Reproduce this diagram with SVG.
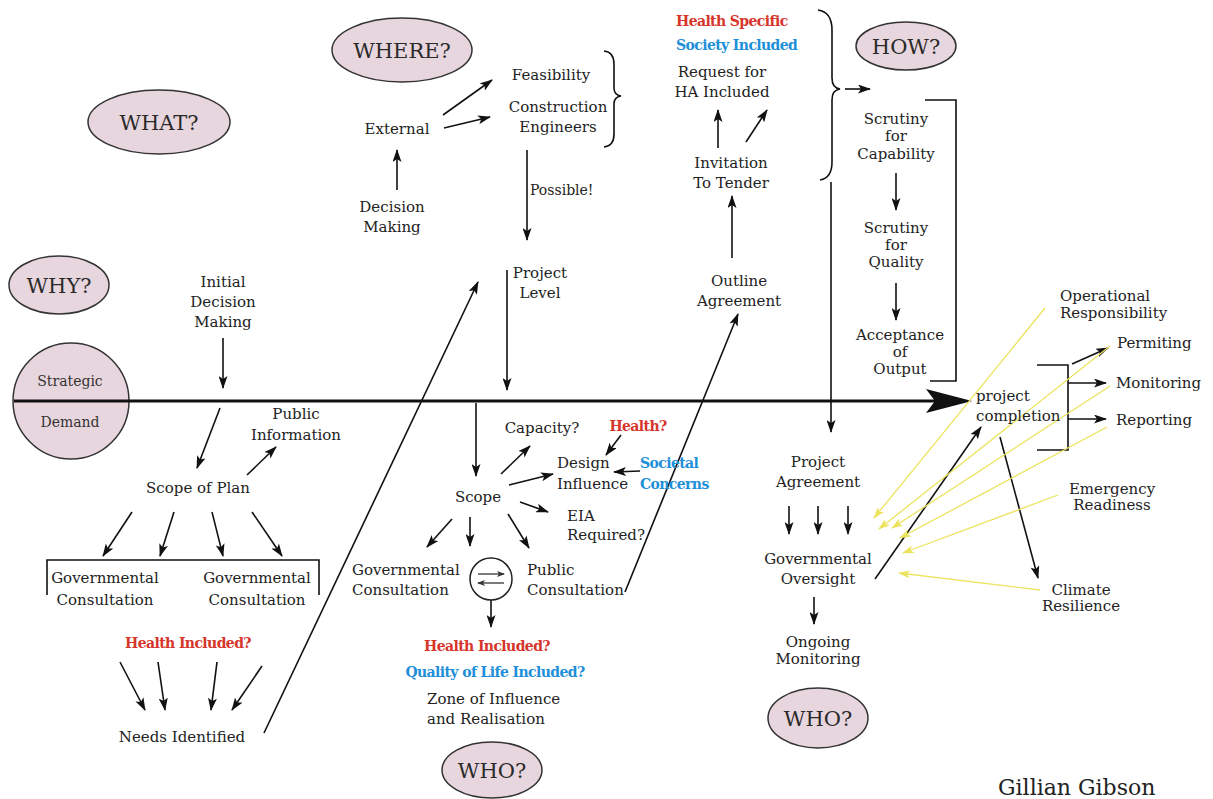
<svg xmlns="http://www.w3.org/2000/svg" width="1213" height="799" viewBox="0 0 1213 799">
<defs>
<style>
text{font-family:"DejaVu Serif","Liberation Serif",serif;font-size:15px;fill:#222}
.c{text-anchor:middle}
.q{font-size:21px;text-anchor:middle;fill:#2a2a2a}
.sd{font-size:14px;text-anchor:middle;fill:#333}
.r{font-weight:bold;fill:#d6352b;font-size:14px;letter-spacing:-0.6px}
.b{font-weight:bold;fill:#1e8fd8;font-size:14px;letter-spacing:-0.6px}
.el{fill:#e8d6de;stroke:#333;stroke-width:1.5}
.ln{fill:none;stroke:#111;stroke-width:1.6}
.ar{fill:none;stroke:#111;stroke-width:1.6;marker-end:url(#ah)}
.ya{fill:none;stroke:#ece35e;stroke-width:1.3;marker-end:url(#ay)}
.sm{fill:none;stroke:#444;stroke-width:1.4;marker-end:url(#as)}
</style>
<marker id="ah" viewBox="0 0 13 9" refX="12" refY="4.5" markerWidth="13" markerHeight="9" markerUnits="userSpaceOnUse" orient="auto"><path d="M0,0 L13,4.5 L0,9 L3,4.5 Z" fill="#111"/></marker>
<marker id="ay" viewBox="0 0 12 8" refX="11" refY="4" markerWidth="12" markerHeight="8" markerUnits="userSpaceOnUse" orient="auto"><path d="M0,0 L12,4 L0,8 L3,4 Z" fill="#ece35e"/></marker>
<marker id="as" viewBox="0 0 8 6" refX="7" refY="3" markerWidth="8" markerHeight="6" markerUnits="userSpaceOnUse" orient="auto"><path d="M0,0 L8,3 L0,6 L2,3 Z" fill="#333"/></marker>
</defs>
<rect width="1213" height="799" fill="#fff"/>

<g id="q-what"><ellipse class="el" cx="159" cy="122" rx="71" ry="32"/><text class="q" x="159" y="130">WHAT?</text></g>
<g id="q-why"><ellipse class="el" cx="59" cy="285" rx="50" ry="29"/><text class="q" x="59" y="293">WHY?</text></g>
<g id="q-where"><ellipse class="el" cx="402" cy="50" rx="70" ry="32"/><text class="q" x="402" y="58">WHERE?</text></g>
<g id="q-how"><ellipse class="el" cx="906" cy="46" rx="50" ry="24"/><text class="q" x="906" y="54">HOW?</text></g>
<g id="q-who1"><ellipse class="el" cx="492" cy="770" rx="50" ry="28"/><text class="q" x="492" y="778">WHO?</text></g>
<g id="q-who2"><ellipse class="el" cx="818" cy="718" rx="50" ry="30"/><text class="q" x="818" y="726">WHO?</text></g>
<g id="strategic-demand"><circle class="el" cx="71" cy="401" r="58"/><text class="sd" x="70" y="386">Strategic</text><text class="sd" x="70" y="427">Demand</text></g>

<g id="connectors">
<path d="M14,401 H935" fill="none" stroke="#111" stroke-width="3"/>
<path d="M926,389 L972,401 L926,413 L935,401 Z" fill="#111"/>
<path class="ar" d="M223,338 V388"/>
<path class="ar" d="M220,408 L197,468"/>
<path class="ar" d="M247,475 L276,447"/>
<path class="ar" d="M132,512 L103,556"/>
<path class="ar" d="M174,512 L160,556"/>
<path class="ar" d="M212,512 L223,556"/>
<path class="ar" d="M252,512 L282,556"/>
<path class="ln" d="M47,595 V560 H319 V595"/>
<path class="ar" d="M120,662 L145,710"/>
<path class="ar" d="M158,662 L165,710"/>
<path class="ar" d="M217,662 L211,710"/>
<path class="ar" d="M262,666 L232,710"/>
<path class="ar" d="M264,733 L478,282"/>
<path class="ar" d="M397,190 V150"/>
<path class="ar" d="M443,115 L492,80"/>
<path class="ar" d="M444,128 L490,117"/>
<path class="ln" d="M604,51 Q614,52 614,64 L614,88 Q614,95 621,96 Q614,97 614,104 L614,134 Q614,146 604,147"/>
<path class="ar" d="M527,150 V240"/>
<path class="ar" d="M507,270 V390"/>
<path class="ar" d="M476,403 V476"/>
<path class="ar" d="M501,474 L530,446"/>
<path class="ar" d="M621,435 L606,455"/>
<path class="ar" d="M509,485 L553,474"/>
<path class="ar" d="M640,471 L614,472"/>
<path class="ar" d="M520,502 L548,512"/>
<path class="ar" d="M452,519 L427,547"/>
<path class="ar" d="M470,517 V546"/>
<path class="ar" d="M508,514 L529,548"/>
<path class="ar" d="M491,600 V627"/>
<path class="ar" d="M625,592 L738,314"/>
<path class="ar" d="M718,148 V110"/>
<path class="ar" d="M746,142 L767,110"/>
<path class="ar" d="M732,258 V196"/>
<path class="ln" d="M818,10 Q832,12 832,30 L832,78 Q832,88 840,89 Q832,90 832,100 L832,162 Q832,178 820,180"/>
<path class="ar" d="M845,89 H870"/>
<path class="ar" d="M831,182 V432"/>
<path class="ar" d="M896,173 V210"/>
<path class="ar" d="M896,283 V320"/>
<path class="ln" d="M925,100 H956 V381 H930"/>
<path class="ar" d="M789,506 V534"/>
<path class="ar" d="M818,506 V534"/>
<path class="ar" d="M848,506 V534"/>
<path class="ar" d="M814,597 V624"/>
<path class="ar" d="M875,579 L981,427"/>
<path class="ln" d="M1037,365 H1068 V450 H1037"/>
<path class="ar" d="M1072,364 L1108,348"/>
<path class="ar" d="M1068,383 H1106"/>
<path class="ar" d="M1068,419 H1106"/>
<path class="ar" d="M1000,437 L1038,578"/>
<path class="ya" d="M1045,308 L874,518"/>
<path class="ya" d="M1110,346 L879,529"/>
<path class="ya" d="M1110,386 L892,528"/>
<path class="ya" d="M1107,427 L900,538"/>
<path class="ya" d="M1058,495 L903,553"/>
<path class="ya" d="M1040,590 L899,573"/>
</g>

<g id="initial-decision"><text class="c"><tspan x="223" y="287">Initial</tspan><tspan x="223" y="307">Decision</tspan><tspan x="223" y="327">Making</tspan></text></g>
<g id="public-information"><text class="c"><tspan x="296" y="419">Public</tspan><tspan x="296" y="440">Information</tspan></text></g>
<g id="scope-of-plan"><text class="c" x="198" y="493">Scope of Plan</text></g>
<g id="gov-consultation-1"><text class="c"><tspan x="105" y="583">Governmental</tspan><tspan x="105" y="605">Consultation</tspan></text></g>
<g id="gov-consultation-2"><text class="c"><tspan x="257" y="583">Governmental</tspan><tspan x="257" y="605">Consultation</tspan></text></g>
<g id="health-included-1"><text class="r" x="188" y="648" text-anchor="middle">Health Included?</text></g>
<g id="needs-identified"><text class="c" x="182" y="742">Needs Identified</text></g>

<g id="external"><text class="c" x="397" y="134">External</text></g>
<g id="decision-making"><text class="c"><tspan x="392" y="212">Decision</tspan><tspan x="392" y="232">Making</tspan></text></g>
<g id="feasibility"><text class="c" x="551" y="80">Feasibility</text></g>
<g id="construction-engineers"><text class="c"><tspan x="558" y="112">Construction</tspan><tspan x="558" y="132">Engineers</tspan></text></g>
<g id="possible"><text x="530" y="195" style="font-size:14px">Possible!</text></g>
<g id="project-level"><text class="c"><tspan x="540" y="278">Project</tspan><tspan x="540" y="298">Level</tspan></text></g>

<g id="scope"><text class="c" x="478" y="502">Scope</text></g>
<g id="capacity"><text class="c" x="542" y="433">Capacity?</text></g>
<g id="health-q"><text class="r" x="638" y="431" text-anchor="middle">Health?</text></g>
<g id="design-influence"><text><tspan x="557" y="468">Design</tspan><tspan x="557" y="489">Influence</tspan></text></g>
<g id="societal-concerns"><text class="b"><tspan x="640" y="468">Societal</tspan><tspan x="640" y="489">Concerns</tspan></text></g>
<g id="eia"><text><tspan x="567" y="521">EIA</tspan><tspan x="567" y="540">Required?</tspan></text></g>
<g id="gov-consultation-3"><text><tspan x="352" y="575">Governmental</tspan><tspan x="352" y="595">Consultation</tspan></text></g>
<g id="exchange">
<circle cx="491" cy="579" r="21" fill="#fff" stroke="#222" stroke-width="1.5"/>
<path class="sm" d="M478,574 H504"/>
<path class="sm" d="M504,583 H478"/>
</g>
<g id="public-consultation"><text><tspan x="527" y="575">Public</tspan><tspan x="527" y="595">Consultation</tspan></text></g>
<g id="health-included-2"><text class="r" x="487" y="651" text-anchor="middle">Health Included?</text></g>
<g id="quality-of-life"><text class="b" x="495" y="677" text-anchor="middle">Quality of Life Included?</text></g>
<g id="zone-of-influence"><text><tspan x="427" y="704">Zone of Influence</tspan><tspan x="427" y="724">and Realisation</tspan></text></g>

<g id="health-specific"><text class="r" x="676" y="26">Health Specific</text></g>
<g id="society-included"><text class="b" x="676" y="50">Society Included</text></g>
<g id="request-ha"><text class="c"><tspan x="722" y="77">Request for</tspan><tspan x="722" y="97">HA Included</tspan></text></g>
<g id="invitation-tender"><text class="c"><tspan x="731" y="168">Invitation</tspan><tspan x="731" y="188">To Tender</tspan></text></g>
<g id="outline-agreement"><text class="c"><tspan x="739" y="286">Outline</tspan><tspan x="739" y="306">Agreement</tspan></text></g>
<g id="scrutiny-capability"><text class="c"><tspan x="896" y="124">Scrutiny</tspan><tspan x="896" y="141">for</tspan><tspan x="896" y="159">Capability</tspan></text></g>
<g id="scrutiny-quality"><text class="c"><tspan x="896" y="233">Scrutiny</tspan><tspan x="896" y="250">for</tspan><tspan x="896" y="267">Quality</tspan></text></g>
<g id="acceptance-output"><text class="c"><tspan x="900" y="340">Acceptance</tspan><tspan x="900" y="357">of</tspan><tspan x="900" y="374">Output</tspan></text></g>

<g id="project-completion"><text><tspan x="976" y="401">project</tspan><tspan x="976" y="421">completion</tspan></text></g>
<g id="permiting"><text x="1117" y="348">Permiting</text></g>
<g id="monitoring"><text x="1116" y="388">Monitoring</text></g>
<g id="reporting"><text x="1116" y="425">Reporting</text></g>
<g id="operational-responsibility"><text><tspan x="1060" y="301">Operational</tspan><tspan x="1060" y="318">Responsibility</tspan></text></g>
<g id="emergency-readiness"><text class="c"><tspan x="1112" y="494">Emergency</tspan><tspan x="1112" y="510">Readiness</tspan></text></g>
<g id="climate-resilience"><text class="c"><tspan x="1081" y="595">Climate</tspan><tspan x="1081" y="611">Resilience</tspan></text></g>

<g id="project-agreement"><text class="c"><tspan x="818" y="467">Project</tspan><tspan x="818" y="487">Agreement</tspan></text></g>
<g id="governmental-oversight"><text class="c"><tspan x="818" y="564">Governmental</tspan><tspan x="818" y="584">Oversight</tspan></text></g>
<g id="ongoing-monitoring"><text class="c"><tspan x="818" y="647">Ongoing</tspan><tspan x="818" y="664">Monitoring</tspan></text></g>

<g id="author"><text x="998" y="795" style="font-size:22px">Gillian Gibson</text></g>
</svg>
